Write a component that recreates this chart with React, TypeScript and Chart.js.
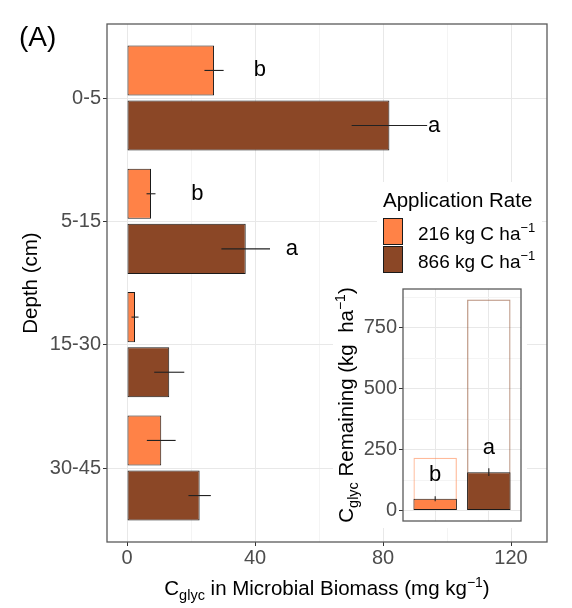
import React, { useEffect, useRef } from "react";
import { Chart, registerables } from "chart.js";

Chart.register(...registerables);

// ---------- data ----------
const depths = ["0-5", "5-15", "15-30", "30-45"];
const mean216 = [27.2, 7.5, 2.5, 10.7];
const se216 = [3.0, 1.4, 1.1, 4.5];
const mean866 = [82.0, 37.1, 13.2, 22.7];
const se866 = [11.8, 7.6, 4.7, 3.5];
const letters216 = ["b", "b", "", ""];
const letters866 = ["a", "a", "", ""];
const letterAt216 = [41.5, 22, 0, 0];
const letterAt866 = [96, 51.5, 0, 0];
const mainXTicks = [0, 20, 40, 60, 80, 100, 120];

const rateLabels = ["216 kg C ha", "866 kg C ha"];
const applied = [216, 866];
const remaining = [48, 157];
const remainingSe = [10, 16];
const remainingLetters = ["b", "a"];
const remainingLetterAt = [144, 255];
const insetYTicks = [0, 125, 250, 375, 500, 625, 750, 875];

// ---------- style ----------
const FONT = "'Liberation Sans', Arial, sans-serif";
const ORANGE = "#FF8247";
const BROWN = "#8B4726";
const ORANGE_LIGHT = "rgba(255,130,71,0.55)";
const BROWN_LIGHT = "rgba(139,71,38,0.6)";
const BAR_BORDER = "#1a1a1a";
const GRID_MAJOR = "#e8e8e8";
const GRID_MINOR = "#f4f4f4";
const TICK_TEXT = "#4d4d4d";
const PANEL_BORDER = "#5a5a5a";

type Seg = { t: string; s: number; dy: number };

function drawRich(
  ctx: CanvasRenderingContext2D,
  segs: Seg[],
  x: number,
  y: number,
  align: "center" | "left",
  rotate: boolean
) {
  ctx.save();
  ctx.translate(x, y);
  if (rotate) ctx.rotate(-Math.PI / 2);
  const widths = segs.map((sg) => {
    ctx.font = `${sg.s}px ${FONT}`;
    return ctx.measureText(sg.t).width;
  });
  const total = widths.reduce((a, b) => a + b, 0);
  let cx = align === "center" ? -total / 2 : 0;
  ctx.textAlign = "left";
  ctx.textBaseline = "alphabetic";
  ctx.fillStyle = "#000";
  segs.forEach((sg, i) => {
    ctx.font = `${sg.s}px ${FONT}`;
    ctx.fillText(sg.t, cx, sg.dy);
    cx += widths[i];
  });
  ctx.restore();
}

const mainPlugin = {
  id: "mainDecor",
  afterDatasetsDraw(chart: any) {
    const ctx: CanvasRenderingContext2D = chart.ctx;
    const xs = chart.scales.x;
    const series = [
      { mean: mean216, se: se216, letters: letters216, at: letterAt216 },
      { mean: mean866, se: se866, letters: letters866, at: letterAt866 },
    ];
    series.forEach((s, d) => {
      const meta = chart.getDatasetMeta(d);
      meta.data.forEach((el: any, i: number) => {
        ctx.save();
        ctx.strokeStyle = "#222";
        ctx.lineWidth = 1.1;
        ctx.beginPath();
        ctx.moveTo(xs.getPixelForValue(s.mean[i] - s.se[i]), el.y);
        ctx.lineTo(xs.getPixelForValue(s.mean[i] + s.se[i]), el.y);
        ctx.stroke();
        if (s.letters[i]) {
          ctx.fillStyle = "#000";
          ctx.font = `22px ${FONT}`;
          ctx.textAlign = "center";
          ctx.textBaseline = "middle";
          ctx.fillText(s.letters[i], xs.getPixelForValue(s.at[i]), el.y);
        }
        ctx.restore();
      });
    });
  },
  afterDraw(chart: any) {
    const ctx: CanvasRenderingContext2D = chart.ctx;
    const a = chart.chartArea;
    // legend
    ctx.save();
    ctx.fillStyle = "#fff";
    ctx.fillRect(377, 182, 165, 100);
    ctx.fillStyle = "#000";
    ctx.font = `20.5px ${FONT}`;
    ctx.textAlign = "left";
    ctx.textBaseline = "alphabetic";
    ctx.fillText("Application Rate", 383, 207);
    const cols = [ORANGE, BROWN];
    cols.forEach((c, i) => {
      const top = 218 + i * 28;
      ctx.fillStyle = c;
      ctx.fillRect(383.5, top + 0.5, 19, 26);
      ctx.strokeStyle = BAR_BORDER;
      ctx.lineWidth = 1;
      ctx.strokeRect(383.5, top + 0.5, 19, 26);
      drawRich(
        ctx,
        [
          { t: rateLabels[i], s: 19, dy: 0 },
          { t: "\u22121", s: 13, dy: -8 },
        ],
        418,
        top + 22,
        "left",
        false
      );
    });
    ctx.restore();

    // panel border
    ctx.save();
    ctx.strokeStyle = PANEL_BORDER;
    ctx.lineWidth = 1.3;
    ctx.strokeRect(a.left, a.top, a.right - a.left, a.bottom - a.top);
    ctx.restore();

    // panel tag
    ctx.save();
    ctx.fillStyle = "#000";
    ctx.font = `28px ${FONT}`;
    ctx.textAlign = "left";
    ctx.textBaseline = "alphabetic";
    ctx.fillText("(A)", 19, 46);
    ctx.restore();

    // y title
    drawRich(ctx, [{ t: "Depth (cm)", s: 20.5, dy: 0 }], 36.5, (a.top + a.bottom) / 2, "center", true);
    // x title
    drawRich(
      ctx,
      [
        { t: "C", s: 20.5, dy: 0 },
        { t: "glyc", s: 14.5, dy: 5 },
        { t: " in Microbial Biomass (mg kg", s: 20.5, dy: 0 },
        { t: "\u22121", s: 14, dy: -8 },
        { t: ")", s: 20.5, dy: 0 },
      ],
      (a.left + a.right) / 2,
      595,
      "center",
      false
    );
  },
};

const insetPlugin = {
  id: "insetDecor",
  afterDatasetsDraw(chart: any) {
    const ctx: CanvasRenderingContext2D = chart.ctx;
    const ys = chart.scales.y;
    const meta = chart.getDatasetMeta(0);
    meta.data.forEach((el: any, i: number) => {
      ctx.save();
      ctx.strokeStyle = "#222";
      ctx.lineWidth = 1.1;
      ctx.beginPath();
      ctx.moveTo(el.x, ys.getPixelForValue(remaining[i] - remainingSe[i]));
      ctx.lineTo(el.x, ys.getPixelForValue(remaining[i] + remainingSe[i]));
      ctx.stroke();
      ctx.fillStyle = "#000";
      ctx.font = `22px ${FONT}`;
      ctx.textAlign = "center";
      ctx.textBaseline = "middle";
      ctx.fillText(remainingLetters[i], el.x, ys.getPixelForValue(remainingLetterAt[i]));
      ctx.restore();
    });
  },
  afterDraw(chart: any) {
    const ctx: CanvasRenderingContext2D = chart.ctx;
    const a = chart.chartArea;
    ctx.save();
    ctx.strokeStyle = PANEL_BORDER;
    ctx.lineWidth = 1.3;
    ctx.strokeRect(a.left, a.top, a.right - a.left, a.bottom - a.top);
    ctx.restore();
    drawRich(
      ctx,
      [
        { t: "C", s: 20.5, dy: 0 },
        { t: "glyc", s: 14.5, dy: 5 },
        { t: " Remaining (kg  ha", s: 20.5, dy: 0 },
        { t: "\u22121", s: 14, dy: -8 },
        { t: ")", s: 20.5, dy: 0 },
      ],
      19.5,
      (a.top + a.bottom) / 2,
      "center",
      true
    );
  },
};

export default function App() {
  const mainRef = useRef<HTMLCanvasElement>(null);
  const insetRef = useRef<HTMLCanvasElement>(null);

  useEffect(() => {
    const main = new Chart(mainRef.current as HTMLCanvasElement, {
      type: "bar",
      data: {
        datasets: [
          {
            label: rateLabels[0],
            data: depths.map((_, i) => ({ x: mean216[i], y: i })) as any,
            backgroundColor: ORANGE,
            borderColor: BAR_BORDER,
            borderWidth: 1,
            borderSkipped: false,
            categoryPercentage: 0.894,
            barPercentage: 0.909,
          },
          {
            label: rateLabels[1],
            data: depths.map((_, i) => ({ x: mean866[i], y: i })) as any,
            backgroundColor: BROWN,
            borderColor: BAR_BORDER,
            borderWidth: 1,
            borderSkipped: false,
            categoryPercentage: 0.894,
            barPercentage: 0.909,
          },
        ],
      },
      options: {
        indexAxis: "y",
        animation: false,
        responsive: false,
        events: [],
        layout: { padding: { left: 0, top: 24, right: 25, bottom: 0 } },
        plugins: { legend: { display: false }, tooltip: { enabled: false } },
        scales: {
          x: {
            type: "linear",
            position: "bottom",
            offset: false,
            min: -6.25,
            max: 131.25,
            afterBuildTicks: (s: any) => {
              s.ticks = mainXTicks.map((v) => ({ value: v }));
            },
            afterFit: (s: any) => {
              s.height = 66;
              s.paddingLeft = 0;
              s.paddingRight = 0;
            },
            border: { display: false },
            grid: {
              offset: false,
              color: (c: any) => (c.tick && c.tick.value % 40 === 0 ? GRID_MAJOR : GRID_MINOR),
              tickColor: (c: any) => (c.tick && c.tick.value % 40 === 0 ? "#333" : "rgba(0,0,0,0)"),
              tickLength: 4,
            },
            ticks: {
              callback: (v: any) => (Number(v) % 40 === 0 ? String(v) : ""),
              font: { family: FONT, size: 20 },
              color: TICK_TEXT,
              padding: 0,
              maxRotation: 0,
              autoSkip: false,
            },
          },
          y: {
            type: "linear",
            reverse: true,
            offset: false,
            min: -0.6,
            max: 3.6,
            afterBuildTicks: (s: any) => {
              s.ticks = depths.map((_, i) => ({ value: i }));
            },
            afterFit: (s: any) => {
              s.width = 107;
              s.paddingTop = 0;
              s.paddingBottom = 0;
            },
            border: { display: false },
            grid: { offset: false, color: GRID_MAJOR, tickColor: "#333", tickLength: 4 },
            ticks: {
              callback: (v: any) => depths[Number(v)] ?? "",
              font: { family: FONT, size: 20 },
              color: TICK_TEXT,
              padding: 2,
              autoSkip: false,
            },
          },
        },
      } as any,
      plugins: [mainPlugin],
    });

    const inset = new Chart(insetRef.current as HTMLCanvasElement, {
      type: "bar",
      data: {
        datasets: [
          {
            label: "remaining",
            data: remaining.map((v, i) => ({ x: i + 1, y: v })) as any,
            backgroundColor: [ORANGE, BROWN],
            borderColor: BAR_BORDER,
            borderWidth: 1,
            borderSkipped: false,
            grouped: false,
            categoryPercentage: 0.9,
            barPercentage: 0.9,
          },
          {
            label: "applied",
            data: applied.map((v, i) => ({ x: i + 1, y: v })) as any,
            backgroundColor: "rgba(255,255,255,0)",
            borderColor: [ORANGE_LIGHT, BROWN_LIGHT],
            borderWidth: 1.2,
            borderSkipped: false,
            grouped: false,
            categoryPercentage: 0.9,
            barPercentage: 0.9,
          },
        ],
      },
      options: {
        animation: false,
        responsive: false,
        events: [],
        layout: { padding: { left: 0, top: 7, right: 6, bottom: 0 } },
        plugins: { legend: { display: false }, tooltip: { enabled: false } },
        scales: {
          x: {
            type: "linear",
            offset: false,
            min: 0.4,
            max: 2.6,
            afterBuildTicks: (s: any) => {
              s.ticks = applied.map((_, i) => ({ value: i + 1 }));
            },
            afterFit: (s: any) => {
              s.height = 7;
              s.paddingLeft = 0;
              s.paddingRight = 0;
            },
            border: { display: false },
            grid: { offset: false, color: GRID_MAJOR, drawTicks: false },
            ticks: { display: false },
          },
          y: {
            type: "linear",
            min: -43.3,
            max: 909.3,
            afterBuildTicks: (s: any) => {
              s.ticks = insetYTicks.map((v) => ({ value: v }));
            },
            afterFit: (s: any) => {
              s.width = 70;
              s.paddingTop = 0;
              s.paddingBottom = 0;
            },
            border: { display: false },
            grid: {
              color: (c: any) => (c.tick && c.tick.value % 250 === 0 ? GRID_MAJOR : GRID_MINOR),
              tickColor: (c: any) => (c.tick && c.tick.value % 250 === 0 ? "#333" : "rgba(0,0,0,0)"),
              tickLength: 4,
            },
            ticks: {
              callback: (v: any) => (Number(v) % 250 === 0 ? String(v) : ""),
              font: { family: FONT, size: 20 },
              color: TICK_TEXT,
              padding: 2,
              autoSkip: false,
            },
          },
        },
      } as any,
      plugins: [insetPlugin],
    });

    return () => {
      main.destroy();
      inset.destroy();
    };
  }, []);

  return (
    <div
      style={{
        position: "fixed",
        left: 0,
        top: 0,
        width: 572,
        height: 608,
        background: "#fff",
      }}
    >
      <canvas
        ref={mainRef}
        width={572}
        height={608}
        style={{ position: "absolute", left: 0, top: 0, width: 572, height: 608 }}
      />
      <canvas
        ref={insetRef}
        width={194}
        height={246}
        style={{
          position: "absolute",
          left: 333,
          top: 282,
          width: 194,
          height: 246,
          background: "#fff",
        }}
      />
    </div>
  );
}
